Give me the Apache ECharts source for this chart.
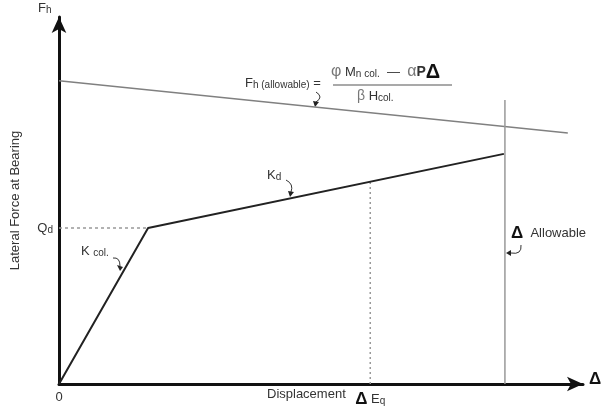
<!DOCTYPE html>
<html>
<head>
<meta charset="utf-8">
<script src="https://cdn.jsdelivr.net/npm/echarts@6/dist/echarts.min.js"></script>
<style>
html, body { margin: 0; padding: 0; background: #fff; }
#main { width: 607px; height: 411px; }
</style>
</head>
<body>
<div id="main"></div>
<script>
// bilinear response (displacement, lateral force), schematic units 0..100
var bilinearPts = [[0, 0], [17, 42.5], [84.9, 62.7]];
var allowablePts = [[0, 82.6], [97.1, 68.4]];
var dispAllowPts = [[85.1, 0], [85.1, 77.4]];
var qdPts = [[0, 42.5], [17, 42.5]];
var eqPts = [[59.4, 0], [59.4, 55.1]];
var xTickValues = [0, 59.4];
var xTickLabels = ['0', '{d|Δ} E{s|q}'];
var yTickValues = [42.5];
var yTickLabels = ['Q{s|d}'];

var font = 'Liberation Sans, Arial, sans-serif';
var chart = echarts.init(document.getElementById('main'));

function hook(x1, y1, cx, cy, x2, y2, head) {
    return [
        { type: 'bezierCurve', shape: { x1: x1, y1: y1, cpx1: cx, cpy1: cy, x2: x2, y2: y2 },
          style: { stroke: '#333', lineWidth: 1, fill: null } },
        { type: 'polygon', shape: { points: head }, style: { fill: '#222' } }
    ];
}

var sub = { fontSize: 10, fontFamily: font, fill: '#333', padding: [4, 0, 0, 0] };
var graphics = [
    { type: 'text', left: 245, top: 77, style: { text: 'F{s|h (allowable)} =', font: '13px ' + font, fill: '#333',
        rich: { s: sub } } },
    { type: 'text', left: 331, top: 62, style: { text: '{g|φ} M{s|n col.}  —  {g|α}{p|P}{d|Δ}', font: '13px ' + font, fill: '#333',
        rich: { s: sub,
                g: { fontSize: 16, fontFamily: font, fill: '#777' },
                p: { fontSize: 14, fontWeight: 'bold', fontFamily: font, fill: '#333' },
                d: { fontSize: 20, fontWeight: 'bold', fontFamily: font, fill: '#111' } } } },
    { type: 'line', shape: { x1: 333, y1: 85, x2: 452, y2: 85 }, style: { stroke: '#555', lineWidth: 1.2 } },
    { type: 'text', left: 357, top: 89, style: { text: '{g|β} H{s|col.}', font: '13px ' + font, fill: '#333',
        rich: { s: sub, g: { fontSize: 14, fontFamily: font, fill: '#777' } } } },
    { type: 'text', left: 267, top: 169, style: { text: 'K{s|d}', font: '13px ' + font, fill: '#333',
        rich: { s: sub } } },
    { type: 'text', left: 81, top: 245, style: { text: 'K {s|col.}', font: '13px ' + font, fill: '#333',
        rich: { s: sub } } },
    { type: 'text', left: 511, top: 225, style: { text: '{d|Δ}  Allowable', font: '13px ' + font, fill: '#333',
        rich: { d: { fontSize: 17, fontWeight: 'bold', fontFamily: font, fill: '#111' } } } },
    { type: 'text', left: 267, top: 388, style: { text: 'Displacement', font: '13px ' + font, fill: '#333' } },
    { type: 'text', left: 38, top: 2, style: { text: 'F{s|h}', font: '13px ' + font, fill: '#333',
        rich: { s: sub } } },
    { type: 'text', left: 589, top: 371, style: { text: 'Δ', font: 'bold 17px ' + font, fill: '#111' } }
];
graphics = graphics
    .concat(hook(316, 92, 324, 97, 316, 102, [[313, 101], [319, 102], [315, 107]]))
    .concat(hook(286, 180, 294, 184, 291, 192, [[288, 191], [294, 192], [290, 197]]))
    .concat(hook(113, 258, 120, 257, 120, 266, [[117, 265], [123, 267], [120, 271]]))
    .concat(hook(521, 245, 522, 255, 511, 253, [[511, 250], [511, 256], [506, 253]]));

var option = {
    animation: false,
    grid: { left: 59, right: 24, top: 17, bottom: 27 },
    xAxis: {
        type: 'value', min: 0, max: 100,
        splitLine: { show: false },
        axisLine: { onZero: false, symbol: ['none', 'arrow'], symbolSize: [11, 16],
            lineStyle: { color: '#111', width: 3 } },
        axisTick: { show: false },
        axisLabel: { customValues: xTickValues, margin: 7, color: '#333', fontFamily: font, fontSize: 13,
            formatter: function (v) { return xTickLabels[xTickValues.indexOf(v)]; },
            rich: { d: { fontSize: 17, fontWeight: 'bold', fontFamily: font, color: '#111' },
                    s: { fontSize: 10, fontFamily: font, color: '#333', padding: [4, 0, 0, 0] } } }
    },
    yAxis: {
        type: 'value', min: 0, max: 100,
        name: 'Lateral Force at Bearing', nameLocation: 'middle', nameGap: 37,
        nameTextStyle: { color: '#333', fontFamily: font, fontSize: 13 },
        splitLine: { show: false },
        axisLine: { onZero: false, symbol: ['none', 'arrow'], symbolSize: [11, 16],
            lineStyle: { color: '#111', width: 3 } },
        axisTick: { show: false },
        axisLabel: { customValues: yTickValues, margin: 6, color: '#333', fontFamily: font, fontSize: 13,
            formatter: function (v) { return yTickLabels[yTickValues.indexOf(v)]; },
            rich: { s: { fontSize: 10, fontFamily: font, color: '#333', padding: [4, 0, 0, 0] } } }
    },
    series: [
        { type: 'line', data: qdPts, symbol: 'none', lineStyle: { color: '#999', width: 1.5, type: [3, 3] } },
        { type: 'line', data: eqPts, symbol: 'none', lineStyle: { color: '#999', width: 1.5, type: [2, 3] } },
        { type: 'line', data: allowablePts, symbol: 'none', lineStyle: { color: '#808080', width: 1.5 } },
        { type: 'line', data: dispAllowPts, symbol: 'none', lineStyle: { color: '#999', width: 1.5 } },
        { type: 'line', data: bilinearPts, symbol: 'none', lineStyle: { color: '#222', width: 2 } }
    ],
    graphic: graphics
};
chart.setOption(option);
</script>
</body>
</html>
